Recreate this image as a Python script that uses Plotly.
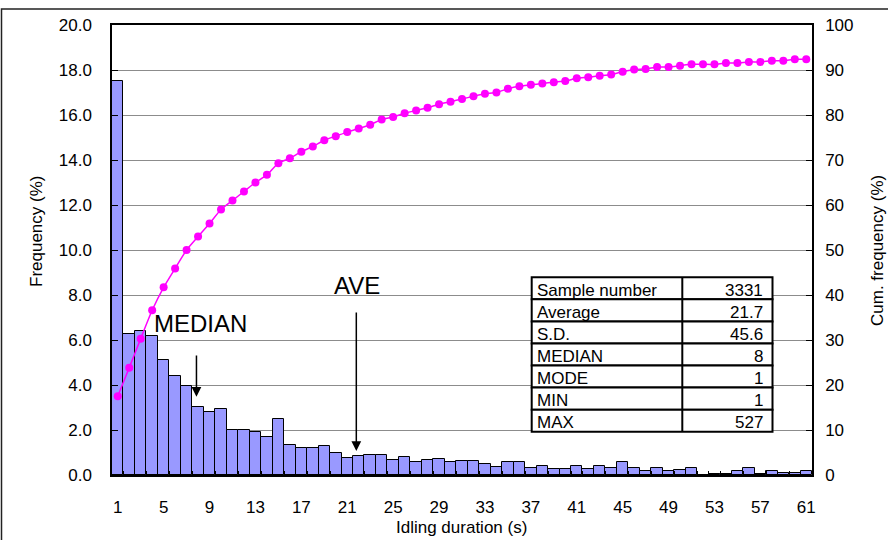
import plotly.graph_objects as go

# ---------------- data ----------------
durations = list(range(1, 62))
frequency = [17.5, 6.25, 6.4, 6.18, 5.11, 4.41, 3.96, 3.04, 2.81, 2.93,
             2.0, 2.0, 1.9, 1.67, 2.47, 1.35, 1.21, 1.21, 1.29, 1.0,
             0.77, 0.83, 0.9, 0.9, 0.67, 0.79, 0.59, 0.67, 0.73, 0.56,
             0.61, 0.61, 0.49, 0.37, 0.59, 0.59, 0.31, 0.38, 0.25, 0.25,
             0.38, 0.25, 0.38, 0.33, 0.59, 0.31, 0.19, 0.31, 0.16, 0.21,
             0.33, 0.0, 0.03, 0.03, 0.16, 0.33, 0.06, 0.16, 0.1, 0.1, 0.16]
cum_frequency = [17.5, 23.85, 30.3, 36.6, 41.7, 45.9, 50.0, 53.0, 55.9, 59.0,
                 61.0, 63.0, 65.0, 66.7, 69.3, 70.4, 71.85, 73.0, 74.4, 75.3,
                 76.2, 77.0, 77.85, 79.0, 79.55, 80.4, 81.0, 81.6, 82.4, 82.96,
                 83.56, 84.15, 84.7, 85.0, 85.85, 86.4, 86.7, 87.0, 87.3, 87.55,
                 88.15, 88.4, 88.7, 89.0, 89.6, 90.1, 90.2, 90.67, 90.67, 90.96,
                 91.26, 91.26, 91.26, 91.55, 91.55, 91.8, 91.8, 92.07, 92.07, 92.37, 92.37]
x_tickvals = list(range(1, 62, 4))
stat_labels = ["Sample number", "Average", "S.D.", "MEDIAN", "MODE", "MIN", "MAX"]
stat_values = ["3331", "21.7", "45.6", "8", "1", "1", "527"]
median_value = 7.86
average_value = 21.79

FONT = "Liberation Sans, Arial, sans-serif"

# plot-area geometry in pixels (used to convert to paper coordinates)
PL, PR, PT, PB = 112, 812, 25, 475
W, H = 888, 540


def px(xp):
    return (xp - PL) / (PR - PL)


def py(yp):
    return (PB - yp) / (PB - PT)


fig = go.Figure()
fig.add_trace(go.Bar(
    x=durations, y=frequency, width=1.0,
    marker=dict(color="#9999FF", line=dict(color="black", width=1)),
    showlegend=False, hoverinfo="x+y"))
fig.add_trace(go.Scatter(
    x=durations, y=cum_frequency, yaxis="y2", mode="lines+markers",
    line=dict(color="#FF00FF", width=1.5, shape="spline", smoothing=0.6),
    marker=dict(color="#FF00FF", size=8),
    showlegend=False))

fig.update_layout(
    width=W, height=H,
    margin=dict(l=PL, r=W - PR, t=PT, b=H - PB),
    paper_bgcolor="white", plot_bgcolor="white",
    bargap=0,
    font=dict(family=FONT, size=17, color="black"),
    xaxis=dict(range=[0.5, 61.5], tickmode="array", tickvals=x_tickvals,
               showline=True, linecolor="black", linewidth=1.5, mirror=True,
               ticks="", showgrid=False, zeroline=False,
               ticklabelstandoff=16,
               tickfont=dict(family=FONT, size=17, color="black"),
               minor=dict(tickmode="array",
                          tickvals=[v + 0.5 for v in durations[:-1]],
                          ticks="inside", ticklen=4, tickcolor="black")),
    yaxis=dict(range=[0, 20], dtick=2, tickformat=".1f",
               showline=True, linecolor="black", linewidth=1.5,
               ticks="inside", ticklen=6, tickcolor="black",
               showgrid=True, gridcolor="#8c8c8c", gridwidth=1,
               zeroline=False, ticklabelstandoff=15,
               tickfont=dict(family=FONT, size=17, color="black")),
    yaxis2=dict(range=[0, 100], dtick=10, overlaying="y", side="right",
                showline=True, linecolor="black", linewidth=1.5,
                ticks="inside", ticklen=6, tickcolor="black",
                showgrid=False, zeroline=False, ticklabelstandoff=8,
                tickfont=dict(family=FONT, size=17, color="black")),
)

annotations = [
    dict(text="Frequency (%)", xref="paper", yref="paper",
         x=px(37), y=py(232), textangle=-90,
         xanchor="center", yanchor="middle", showarrow=False,
         font=dict(family=FONT, size=17)),
    dict(text="Cum. frequency (%)", xref="paper", yref="paper",
         x=px(877), y=py(250), textangle=-90,
         xanchor="center", yanchor="middle", showarrow=False,
         font=dict(family=FONT, size=17)),
    dict(text="Idling duration (s)", xref="paper", yref="paper",
         x=px(461.5), y=py(527),
         xanchor="center", yanchor="middle", showarrow=False,
         font=dict(family=FONT, size=17)),
    dict(text="MEDIAN", x=8.17, y=6.73, xref="x", yref="y",
         showarrow=False, xanchor="center", yanchor="middle",
         font=dict(family=FONT, size=24)),
    dict(text="AVE", x=21.86, y=8.42, xref="x", yref="y",
         showarrow=False, xanchor="center", yanchor="middle",
         font=dict(family=FONT, size=24)),
    dict(text="", x=median_value, y=3.48, ax=median_value, ay=5.38,
         xref="x", yref="y", axref="x", ayref="y",
         showarrow=True, arrowhead=2, arrowsize=1.3, arrowwidth=1.5,
         arrowcolor="black"),
    dict(text="", x=average_value, y=1.07, ax=average_value, ay=7.29,
         xref="x", yref="y", axref="x", ayref="y",
         showarrow=True, arrowhead=2, arrowsize=1.3, arrowwidth=1.5,
         arrowcolor="black"),
]

# ---------------- statistics table (cells as shapes + text) ----------------
T_LEFT, T_DIV, T_RIGHT, T_TOP, T_BOTTOM = 531.7, 682.3, 772.5, 277.3, 431.7
row_h = (T_BOTTOM - T_TOP) / len(stat_labels)
shapes = []
for i, (lab, val) in enumerate(zip(stat_labels, stat_values)):
    top = T_TOP + i * row_h
    bot = top + row_h
    shapes.append(dict(type="rect", xref="paper", yref="paper",
                       x0=px(T_LEFT), x1=px(T_RIGHT), y0=py(bot), y1=py(top),
                       line=dict(color="black", width=2), fillcolor="white",
                       layer="above"))
    mid = (top + bot) / 2 + 2
    annotations.append(dict(text=lab, xref="paper", yref="paper",
                            x=px(T_LEFT + 3), y=py(mid), xanchor="left",
                            yanchor="middle", showarrow=False,
                            font=dict(family=FONT, size=17)))
    annotations.append(dict(text=val, xref="paper", yref="paper",
                            x=px(T_RIGHT - 7.5), y=py(mid), xanchor="right",
                            yanchor="middle", showarrow=False,
                            font=dict(family=FONT, size=17)))
shapes.append(dict(type="line", xref="paper", yref="paper",
                   x0=px(T_DIV), x1=px(T_DIV), y0=py(T_BOTTOM), y1=py(T_TOP),
                   line=dict(color="black", width=2), layer="above"))

# outer chart-area border (top and left edges visible in frame)
shapes.append(dict(type="rect", xref="paper", yref="paper",
                   x0=px(1.5), x1=px(W + 20), y0=py(H + 20), y1=py(9),
                   line=dict(color="#222222", width=1.5),
                   fillcolor="rgba(0,0,0,0)", layer="below"))

fig.update_layout(annotations=annotations, shapes=shapes)

fig.write_html("out.html",
               config={"displayModeBar": False},
               post_script="document.body.style.margin='0';"
                           "document.body.style.padding='0';")
